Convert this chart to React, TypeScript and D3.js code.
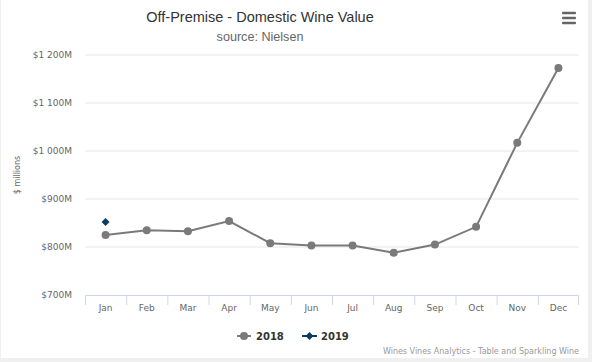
import React from "react";
import * as d3 from "d3";

const months = ["Jan","Feb","Mar","Apr","May","Jun","Jul","Aug","Sep","Oct","Nov","Dec"];
const values2018 = [825, 835, 833, 854, 808, 803, 803, 788, 805, 842, 1017, 1173];
const values2019 = [852];
const yTicks = [700, 800, 900, 1000, 1100, 1200];
const yTickLabels = ["$700M", "$800M", "$900M", "$1 000M", "$1 100M", "$1 200M"];

const W = 592, H = 362;
const left = 85, right = 579, top = 55, bottom = 295;
const c2018 = "#7a7a7a";
const c2019 = "#0d3c5e";
const axisFont = "'DejaVu Sans', Verdana, sans-serif";
const diamondPath = (r: number) => {
  const p = d3.path();
  p.moveTo(0, -r); p.lineTo(r, 0); p.lineTo(0, r); p.lineTo(-r, 0); p.closePath();
  return p.toString();
};

export default function App() {
  const x = d3.scaleBand<string>().domain(months).range([left, right]);
  const y = d3.scaleLinear().domain([700, 1200]).range([bottom, top]);
  const cx = (m: string) => (x(m) as number) + x.bandwidth() / 2;
  const line = d3.line<number>().x((_, i) => cx(months[i])).y(d => y(d));
  const diamond = diamondPath(4);

  return (
    <svg width={W} height={H} style={{ position: "fixed", left: 0, top: 0, background: "#f0f0f0" }}>
      <rect x={1} y={0} width={587} height={358} fill="#ffffff" />
      <text x={260} y={22} textAnchor="middle" fontFamily="'Liberation Sans', Arial, sans-serif" fontSize={14.5} fill="#333333">Off-Premise - Domestic Wine Value</text>
      <text x={260} y={41} textAnchor="middle" fontFamily="'Liberation Sans', Arial, sans-serif" fontSize={12.6} fill="#666666">source: Nielsen</text>
      <g fill="#666666">
        {[13, 18, 23].map(v => <rect key={v} x={562} y={v - 1.3} width={14} height={2.6} rx={1} />)}
      </g>
      {yTicks.map((t, i) => (
        <g key={t}>
          {t !== 700 && <line x1={left} x2={right} y1={y(t)} y2={y(t)} stroke="#e6e6e6" strokeWidth={1} />}
          <text x={72} y={y(t) + 3} textAnchor="end" fontFamily={axisFont} fontSize={9} fill="#666666">{yTickLabels[i]}</text>
        </g>
      ))}
      <text transform={`translate(20,175) rotate(-90)`} textAnchor="middle" fontFamily={axisFont} fontSize={8} fill="#666666">$ millions</text>
      <line x1={left} x2={right} y1={bottom + 0.5} y2={bottom + 0.5} stroke="#ccd6eb" strokeWidth={1} />
      {months.map((m) => (
        <line key={"t" + m} x1={(x(m) as number) + 0.5} x2={(x(m) as number) + 0.5} y1={bottom} y2={bottom + 10} stroke="#ccd6eb" />
      ))}
      <line x1={right - 0.5} x2={right - 0.5} y1={bottom} y2={bottom + 10} stroke="#ccd6eb" />
      {months.map(m => (
        <text key={m} x={cx(m)} y={311} textAnchor="middle" fontFamily={axisFont} fontSize={9} fill="#666666">{m}</text>
      ))}
      <path d={line(values2018) || ""} fill="none" stroke={c2018} strokeWidth={2} />
      {values2018.map((v, i) => (
        <circle key={i} cx={cx(months[i])} cy={y(v)} r={4} fill={c2018} />
      ))}
      {values2019.map((v, i) => (
        <path key={i} d={diamond} transform={`translate(${cx(months[i])},${y(v)})`} fill={c2019} />
      ))}
      <g fontFamily={axisFont} fontSize={10} fontWeight="bold" fill="#333333">
        <line x1={237} x2={251} y1={336} y2={336} stroke={c2018} strokeWidth={2} />
        <circle cx={244} cy={336} r={4} fill={c2018} />
        <text x={256} y={340}>2018</text>
        <line x1={302} x2={317} y1={336} y2={336} stroke={c2019} strokeWidth={2} />
        <path d={diamond} transform="translate(309.5,336)" fill={c2019} />
        <text x={321} y={340}>2019</text>
      </g>
      <text x={579} y={354} textAnchor="end" fontFamily={axisFont} fontSize={8} fill="#999999">Wines Vines Analytics - Table and Sparkling Wine</text>
    </svg>
  );
}
